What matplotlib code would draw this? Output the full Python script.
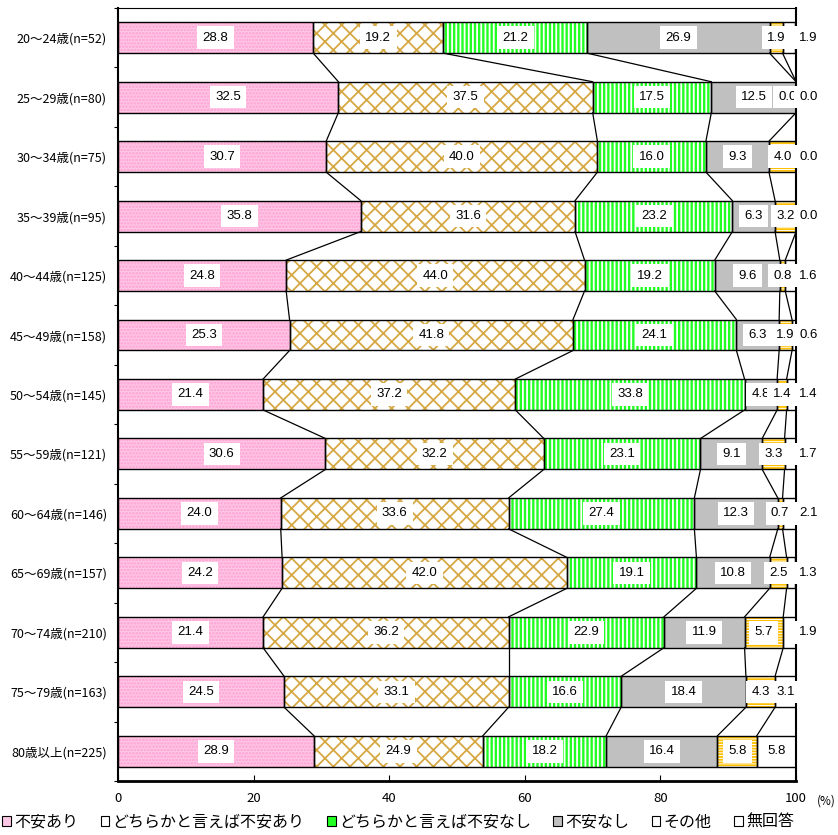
import matplotlib
matplotlib.use('Agg')
import matplotlib.pyplot as plt
import numpy as np
from matplotlib.patches import Patch

plt.rcParams['font.family'] = ['Noto Sans CJK JP', 'DejaVu Sans']
plt.rcParams['hatch.linewidth'] = 1.3

groups = ['20～24歳(n=52)', '25～29歳(n=80)', '30～34歳(n=75)', '35～39歳(n=95)',
          '40～44歳(n=125)', '45～49歳(n=158)', '50～54歳(n=145)', '55～59歳(n=121)',
          '60～64歳(n=146)', '65～69歳(n=157)', '70～74歳(n=210)', '75～79歳(n=163)',
          '80歳以上(n=225)']
series_names = ['不安あり', 'どちらかと言えば不安あり', 'どちらかと言えば不安なし',
                '不安なし', 'その他', '無回答']
fuan_ari = [28.8, 32.5, 30.7, 35.8, 24.8, 25.3, 21.4, 30.6, 24.0, 24.2, 21.4, 24.5, 28.9]
dochira_ari = [19.2, 37.5, 40.0, 31.6, 44.0, 41.8, 37.2, 32.2, 33.6, 42.0, 36.2, 33.1, 24.9]
dochira_nashi = [21.2, 17.5, 16.0, 23.2, 19.2, 24.1, 33.8, 23.1, 27.4, 19.1, 22.9, 16.6, 18.2]
fuan_nashi = [26.9, 12.5, 9.3, 6.3, 9.6, 6.3, 4.8, 9.1, 12.3, 10.8, 11.9, 18.4, 16.4]
sonota = [1.9, 0.0, 4.0, 3.2, 0.8, 1.9, 1.4, 3.3, 0.7, 2.5, 5.7, 4.3, 5.8]
mukaito = [1.9, 0.0, 0.0, 0.0, 1.6, 0.6, 1.4, 1.7, 2.1, 1.3, 1.9, 3.1, 5.8]

data = np.array([fuan_ari, dochira_ari, dochira_nashi, fuan_nashi, sonota, mukaito])

# face, hatch, hatch colour
styles = [
    ('#ffc8e6', '.....', '#ff9fd2'),
    ('white', 'xx', '#d6a844'),
    ('#22ff22', '||||', 'white'),
    ('#c0c0c0', None, '#c0c0c0'),
    ('white', '------', '#ffc000'),
    ('white', None, 'white'),
]

fig = plt.figure(figsize=(8.38, 8.35), dpi=100)
ax = fig.add_axes([0.1408, 0.0647, 0.8092, 0.9257])

y = np.arange(len(groups))
h = 0.52
left = np.zeros(len(groups))
cum = []
for k, vals in enumerate(data):
    face, hatch, hc = styles[k]
    ax.barh(y, vals, left=left, height=h, color=face, edgecolor=hc,
            hatch=hatch, linewidth=0, zorder=2)
    ax.barh(y, vals, left=left, height=h, fill=False, edgecolor='black',
            linewidth=1.0, zorder=3)
    for i, v in enumerate(vals):
        xc = left[i] + v / 2
        if k == 5 and v < 3:
            xc = 101.8
        xc = min(xc, 98.8) if k < 5 else xc
        ax.text(xc, y[i], f'{v:.1f}', ha='center', va='center', fontsize=9.5,
                family=['Liberation Sans', 'DejaVu Sans'], zorder=5, clip_on=False,
                bbox=dict(boxstyle='square,pad=0.4', facecolor='white', edgecolor='none'))
    left = left + vals
    cum.append(left.copy())

# series lines between bars
for k in range(5):
    for i in range(len(groups) - 1):
        ax.plot([min(cum[k][i], 100), min(cum[k][i + 1], 100)],
                [y[i] + h / 2, y[i + 1] - h / 2], color='black', lw=0.9, zorder=4)

ax.set_xlim(0, 100)
ax.set_ylim(len(groups) - 0.5, -0.5)
ax.set_xticks(np.arange(0, 101, 20))
ax.tick_params(axis='x', direction='in', length=4, labelsize=9.5, pad=8)
ax.set_yticks(np.arange(-0.5, len(groups), 1))
ax.set_yticklabels([])
ax.set_yticks(y, minor=True)
ax.set_yticklabels(groups, minor=True, fontsize=9)
ax.tick_params(axis='y', which='major', direction='out', length=3)
ax.tick_params(axis='y', which='minor', length=0, pad=8)
ax.spines['bottom'].set_linewidth(2)
ax.spines['left'].set_linewidth(1.5)
ax.spines['top'].set_linewidth(0.8)
ax.spines['right'].set_linewidth(1.5)
ax.text(1.045, -0.026, '(%)', transform=ax.transAxes, fontsize=8.5, ha='center', va='center')

handles = []
for k in range(6):
    face, hatch, hc = styles[k]
    handles.append(Patch(facecolor=face, edgecolor='black', linewidth=0.8,
                         label=series_names[k]))
fig.legend(handles=handles, loc='lower center', bbox_to_anchor=(0.475, -0.012), ncol=6,
           frameon=False, fontsize=11.5, handlelength=0.55, handleheight=0.55,
           handletextpad=0.2, columnspacing=1.4)

fig.savefig('out.png', dpi=100)
